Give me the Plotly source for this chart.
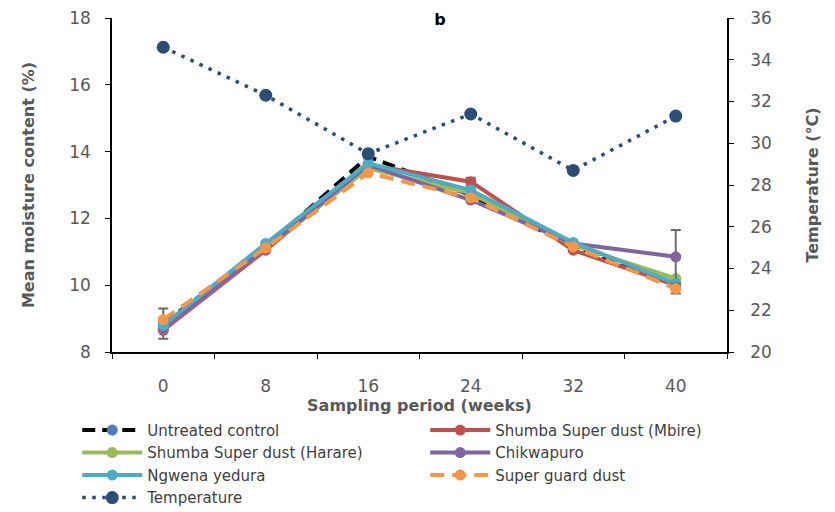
import plotly.graph_objects as go

weeks = ["0", "8", "16", "24", "32", "40"]

untreated = [8.85, 11.15, 13.85, 12.7, 11.15, 10.0]
mbire = [8.65, 11.05, 13.6, 13.1, 11.05, 10.0]
harare = [8.7, 11.1, 13.5, 12.75, 11.2, 10.2]
chikwapuro = [8.7, 11.1, 13.6, 12.55, 11.25, 10.85]
ngwena = [8.8, 11.25, 13.65, 12.85, 11.28, 10.05]
superguard = [8.97, 11.12, 13.36, 12.62, 11.15, 9.9]
temperature = [34.6, 32.3, 29.5, 31.4, 28.7, 31.3]

err_untreated = [0.45, 0.0, 0.0, 0.0, 0.0, 0.15]
err_mbire = [0.0, 0.0, 0.0, 0.12, 0.0, 0.0]
err_chikwapuro = [0.0, 0.0, 0.0, 0.0, 0.0, 0.8]
err_superguard = [0.0, 0.0, 0.0, 0.0, 0.0, 0.15]
zero_err = [0, 0, 0, 0, 0, 0]

FONT = "DejaVu Sans"
GREY = "#595959"

fig = go.Figure()

def add_series(name, y, line_color, marker_color, dash, err):
    fig.add_trace(go.Scatter(
        x=weeks, y=y, name=name, mode="lines+markers",
        line=dict(color=line_color, width=4, dash=dash),
        marker=dict(color=marker_color, size=11),
        error_y=dict(type="data", array=err, visible=True, color="#6b6b6b",
                     thickness=2, width=5),
    ))

add_series("Untreated control", untreated, "black", "#4A7EBB", "13px,7px", err_untreated)
add_series("Shumba Super dust (Mbire)", mbire, "#C0504D", "#C0504D", "solid", err_mbire)
add_series("Shumba Super dust (Harare)", harare, "#9BBB59", "#9BBB59", "solid", zero_err)
add_series("Chikwapuro", chikwapuro, "#8064A2", "#8064A2", "solid", err_chikwapuro)
add_series("Ngwena yedura", ngwena, "#4BACC6", "#4BACC6", "solid", zero_err)
add_series("Super guard dust", superguard, "#F79646", "#F79646", "14px,8px", err_superguard)

fig.add_trace(go.Scatter(
    x=weeks, y=temperature, name="Temperature", mode="lines+markers",
    line=dict(color="#2C4D75", width=3.5, dash="3.5px,6.5px"),
    marker=dict(color="#2C4D75", size=13),
    yaxis="y2",
))

fig.update_layout(
    width=835, height=512,
    margin=dict(l=112, r=108, t=18, b=160, autoexpand=False),
    paper_bgcolor="white", plot_bgcolor="white",
    font=dict(family=FONT, size=16, color=GREY),
    title=dict(text="<b>b</b>", x=0.527, xanchor="center", y=0.962, yanchor="middle",
               font=dict(family=FONT, size=16, color="black")),
    xaxis=dict(
        type="category", range=[-0.5, 5.5],
        showline=True, linecolor="black", linewidth=1.5,
        ticks="outside", tickson="boundaries", ticklen=5, tickcolor="black",
        ticklabelstandoff=18,
        tickfont=dict(size=17, color=GREY),
        title=dict(text="<b>Sampling period (weeks)</b>", standoff=5,
                   font=dict(size=16, color=GREY)),
        showgrid=False, zeroline=False,
    ),
    yaxis=dict(
        range=[8, 18], dtick=2,
        showline=True, linecolor="black", linewidth=1.5,
        ticks="outside", ticklen=5, tickcolor="black",
        ticklabelstandoff=11,
        tickfont=dict(size=17, color=GREY),
        title=dict(text="<b>Mean moisture content (%)</b>", standoff=31,
                   font=dict(size=16, color=GREY)),
        showgrid=False, zeroline=False,
    ),
    yaxis2=dict(
        range=[20, 36], dtick=2, overlaying="y", side="right",
        showline=True, linecolor="black", linewidth=1.5,
        ticks="outside", ticklen=5, tickcolor="black",
        ticklabelstandoff=13,
        tickfont=dict(size=17, color=GREY),
        title=dict(text="<b>Temperature (°C)</b>", standoff=36,
                   font=dict(size=16, color=GREY)),
        showgrid=False, zeroline=False,
    ),
    legend=dict(
        orientation="h", x=-0.0565, xanchor="left", y=-0.185, yanchor="top",
        entrywidth=273, entrywidthmode="pixels",
        font=dict(size=15, color="#404040"),
        tracegroupgap=0, itemwidth=60,
    ),
    showlegend=True,
)

fig.write_html("out.html")
